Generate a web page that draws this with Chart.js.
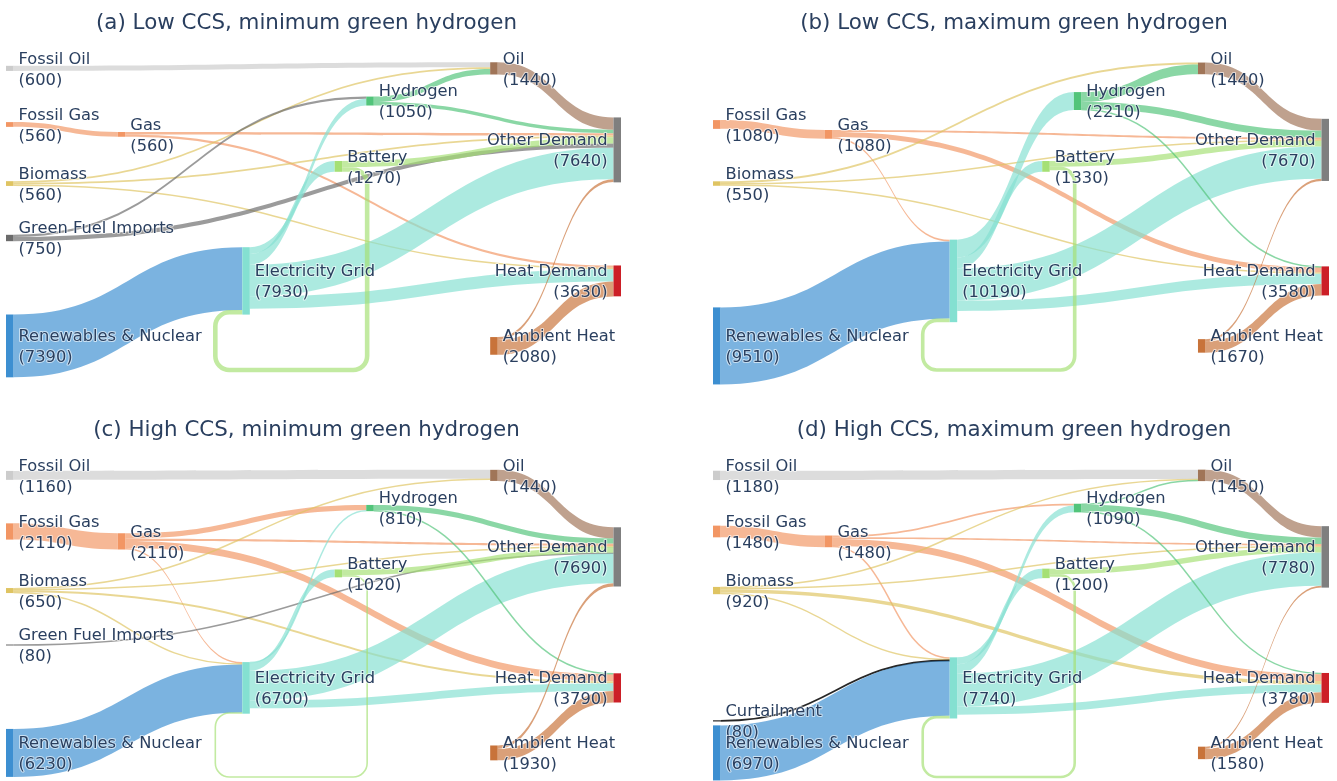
<!DOCTYPE html>
<html><head><meta charset="utf-8">
<script src="https://cdn.jsdelivr.net/npm/chart.js@4.4.1/dist/chart.umd.min.js"></script>
<style>
html,body{margin:0;padding:0;background:#fff;}
body{width:1337px;height:781px;position:relative;overflow:hidden;}
canvas{position:absolute;display:block;}
</style></head><body>
<canvas id="ca" width="668" height="400" style="left:0;top:0"></canvas>
<canvas id="cb" width="669" height="400" style="left:668px;top:0"></canvas>
<canvas id="cc" width="668" height="374" style="left:0;top:407px"></canvas>
<canvas id="cd" width="669" height="374" style="left:668px;top:407px"></canvas>
<script>
// ---------- DATA ----------
const nodeNames = ['Fossil Oil','Fossil Gas','Biomass','Green Fuel Imports','Curtailment','Renewables & Nuclear',
  'Gas','Electricity Grid','Hydrogen','Battery','Oil','Other Demand','Heat Demand','Ambient Heat'];

const panelTitles = ['(a) Low CCS, minimum green hydrogen','(b) Low CCS, maximum green hydrogen',
  '(c) High CCS, minimum green hydrogen','(d) High CCS, maximum green hydrogen'];

// node totals shown in labels (null = node absent)
const nodeValuesA = [600,560,560,750,null,7390,560,7930,1050,1270,1440,7640,3630,2080];
const nodeValuesB = [null,1080,550,null,null,9510,1080,10190,2210,1330,1440,7670,3580,1670];
const nodeValuesC = [1160,2110,650,80,null,6230,2110,6700,810,1020,1440,7690,3790,1930];
const nodeValuesD = [1180,1480,920,null,80,6970,1480,7740,1090,1200,1450,7780,3780,1580];

// links (source -> target, node indices)
const linkSource = [0,1,6,6,6,6,2,2,2,2,3,3,4,5,7,7,7,7,9,9,8,8,8,10,13,13];
const linkTarget = [10,6,8,11,12,7,10,11,12,7,8,11,7,7,8,9,11,12,11,7,10,11,12,11,12,11];

const flowA = [600,560,0,290,270,0,200,200,160,0,250,500,0,7390,800,1270,3700,1470,730,540,640,410,0,1440,1750,340];
const flowB = [0,1080,0,250,600,230,230,140,180,0,0,0,0,9510,2210,1330,3990,1280,700,450,1210,880,120,1440,1400,270];
const flowC = [1160,2110,700,320,890,200,150,120,260,100,0,80,0,6230,110,1020,3860,1010,760,170,0,680,130,1440,1500,430];
const flowD = [1180,1480,220,230,860,170,130,150,450,190,0,0,80,6970,870,1200,4200,990,700,330,140,800,150,1450,1330,250];

// ---------- LAYOUT / STYLE ----------
const nodeX = [0,0,0,0,0,0,0.184,0.389,0.593,0.541,0.797,1,1,0.797];
const nodeY = [0.086,0.256,0.435,0.6,0.83,0.927,0.286,0.73,0.185,0.383,0.086,0.333,0.73,0.927];
const nodeColors = ['#cccccc','#f29664','#dfc462','#6b6b6b','#000000','#3d8fd1',
  '#f29664','#84e0d1','#52c47a','#a5e075','#a07558','#7f7f7f','#cc1f27','#c8733a'];
const yMaxes = [38824, 40741, 42857, 41772]; // flow units spanning plot height
const NODE_W = 7.5;
const LINK_ALPHA = 0.68;
const TEXT_COLOR = '#2a3f5f';
const FONT = '"DejaVu Sans", sans-serif';

function rgba(hex, a){
  const n = parseInt(hex.slice(1),16);
  return `rgba(${(n>>16)&255},${(n>>8)&255},${n&255},${a})`;
}

const sankeyPlugin = {
  id: 'sankey',
  afterDatasetsDraw(chart, args, opts){
    const ctx = chart.ctx, xs = chart.scales.x, ys = chart.scales.y, ca = chart.chartArea;
    const vals = opts.nodeValues, flows = opts.flows;
    const yMax = ys.max;
    const wpx = v => ys.getPixelForValue(v) - ys.getPixelForValue(0);
    const nodes = nodeNames.map((name,i)=>{
      if (vals[i] == null) return null;
      const left = xs.getPixelForValue(nodeX[i]);
      const c = nodeY[i]*yMax;
      return {i, name, value: vals[i], left, right: left+NODE_W,
        cy: ys.getPixelForValue(c), topV: c - vals[i]/2,
        top: ys.getPixelForValue(c - vals[i]/2), bottom: ys.getPixelForValue(c + vals[i]/2)};
    });
    const links = [];
    linkSource.forEach((s,k)=>{
      if (!flows[k] || !nodes[s] || !nodes[linkTarget[k]]) return;
      const S = nodes[s], T = nodes[linkTarget[k]];
      links.push({k, S, T, v: flows[k], circular: T.left <= S.left});
    });
    // stacking of links on each node side
    nodes.forEach(n=>{
      if (!n) return;
      const out = links.filter(l=>l.S===n);
      const inn = links.filter(l=>l.T===n);
      const slopeOut = l => (l.T.cy - l.S.cy)/(l.T.left - l.S.right);
      const slopeIn = l => (l.S.cy - l.T.cy)/(l.T.left - l.S.right);
      const oN = out.filter(l=>!l.circular).sort((a,b)=>slopeOut(a)-slopeOut(b));
      const oC = out.filter(l=>l.circular);
      let off = n.topV;
      oN.concat(oC).forEach(l=>{ l.s0 = ys.getPixelForValue(off); off += l.v; l.s1 = ys.getPixelForValue(off); });
      const iN = inn.filter(l=>!l.circular).sort((a,b)=>slopeIn(a)-slopeIn(b));
      const iC = inn.filter(l=>l.circular);
      off = n.topV;
      iN.concat(iC).forEach(l=>{ l.t0 = ys.getPixelForValue(off); off += l.v; l.t1 = ys.getPixelForValue(off); });
    });
    ctx.save();
    // links
    links.forEach(l=>{
      const col = rgba(nodeColors[l.S.i], l.S.i===4 ? 0.85 : LINK_ALPHA);
      const w = wpx(l.v);
      if (l.circular){
        const r = 14, xr = l.S.right + 25, xl = l.T.left - 27, yb = ys.getPixelForValue(yMax);
        const ysC = (l.s0+l.s1)/2, ytC = (l.t0+l.t1)/2;
        ctx.beginPath();
        ctx.moveTo(l.S.right, ysC);
        ctx.arcTo(xr, ysC, xr, yb, r);
        ctx.arcTo(xr, yb, xl, yb, r);
        ctx.arcTo(xl, yb, xl, ytC, r);
        ctx.arcTo(xl, ytC, l.T.left, ytC, r);
        ctx.lineTo(l.T.left, ytC);
        ctx.strokeStyle = col; ctx.lineWidth = Math.max(w, 1.6); ctx.stroke();
        return;
      }
      const x0 = l.S.right, x1 = l.T.left, xm = (x0+x1)/2;
      if (w < 1.5){
        const a = (l.s0+l.s1)/2, b = (l.t0+l.t1)/2;
        ctx.beginPath(); ctx.moveTo(x0,a); ctx.bezierCurveTo(xm,a,xm,b,x1,b);
        ctx.strokeStyle = col; ctx.lineWidth = l.S.i===4 ? 1.8 : 1.5; ctx.stroke();
        return;
      }
      ctx.beginPath();
      ctx.moveTo(x0, l.s0); ctx.bezierCurveTo(xm, l.s0, xm, l.t0, x1, l.t0);
      ctx.lineTo(x1, l.t1); ctx.bezierCurveTo(xm, l.t1, xm, l.s1, x0, l.s1);
      ctx.closePath(); ctx.fillStyle = col; ctx.fill();
    });
    // nodes
    nodes.forEach(n=>{
      if (!n) return;
      ctx.fillStyle = nodeColors[n.i];
      const h = Math.max(n.bottom - n.top, 1);
      ctx.fillRect(n.left, n.cy - h/2, NODE_W, h);
    });
    // labels
    ctx.font = '16.3px ' + FONT;
    ctx.textBaseline = 'alphabetic';
    nodes.forEach(n=>{
      if (!n) return;
      const rightSide = nodeX[n.i] >= 1;
      ctx.textAlign = rightSide ? 'right' : 'left';
      const tx = rightSide ? n.left - 6 : n.right + 5;
      const lines = [[n.name, n.cy - 4.6], ['(' + n.value + ')', n.cy + 16.4]];
      lines.forEach(([t,y])=>{
        ctx.strokeStyle = 'rgba(255,255,255,0.6)'; ctx.lineWidth = 2; ctx.lineJoin = 'round';
        ctx.strokeText(t, tx, y);
        ctx.fillStyle = TEXT_COLOR; ctx.fillText(t, tx, y);
      });
    });
    // title
    ctx.font = '21.4px ' + FONT;
    ctx.textAlign = 'center';
    ctx.fillStyle = TEXT_COLOR;
    ctx.fillText(opts.title, (ca.left + ca.right + NODE_W)/2 - 7, 29);
    ctx.restore();
  }
};

function makeChart(id, title, nodeValues, flows, yMax, pad){
  return new Chart(document.getElementById(id), {
    type: 'scatter',
    data: { datasets: [] },
    options: {
      responsive: false, animation: false, events: [],
      layout: { padding: pad },
      plugins: { legend: {display:false}, tooltip: {enabled:false}, title: {display:false},
        sankey: { title, nodeValues, flows } },
      scales: {
        x: { type:'linear', min:0, max:1, display:false },
        y: { type:'linear', min:0, max:yMax, reverse:true, display:false }
      }
    },
    plugins: [sankeyPlugin]
  });
}
makeChart('ca', panelTitles[0], nodeValuesA, flowA, yMaxes[0], {left:6, right:54.5, top:40, bottom:30});
makeChart('cb', panelTitles[1], nodeValuesB, flowB, yMaxes[1], {left:45, right:15.5, top:40, bottom:30});
makeChart('cc', panelTitles[2], nodeValuesC, flowC, yMaxes[2], {left:6, right:54.5, top:40, bottom:4});
makeChart('cd', panelTitles[3], nodeValuesD, flowD, yMaxes[3], {left:45, right:15.5, top:40, bottom:4});
</script>
</body></html>
